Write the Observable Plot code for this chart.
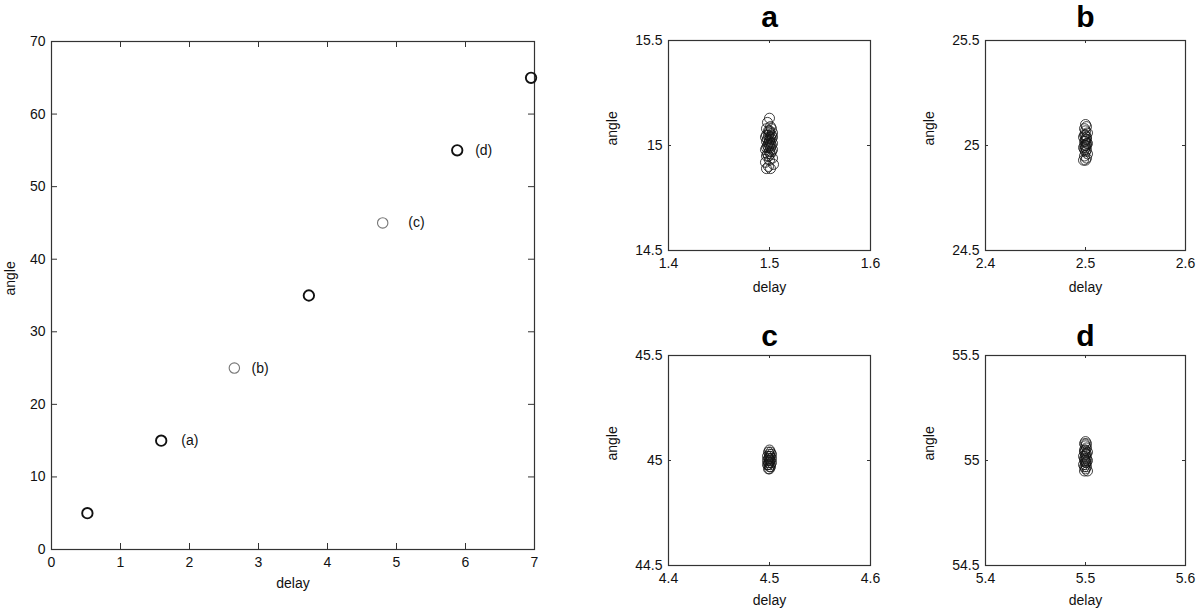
<!DOCTYPE html>
<html>
<head>
<meta charset="utf-8">
<script src="https://cdn.jsdelivr.net/npm/d3@7"></script>
<script src="https://cdn.jsdelivr.net/npm/@observablehq/plot@0.6"></script>
<style>
  html, body { margin: 0; padding: 0; background: #fff; }
  #root { position: relative; width: 1200px; height: 609px; overflow: hidden; }
  .panel { position: absolute; }
</style>
</head>
<body>
<div id="root"></div>
<script>
// ---- Main panel data ----
const mainDelay = [0.52, 1.59, 2.65, 3.73, 4.80, 5.88, 6.95];
const mainAngle = [5, 15, 25, 35, 45, 55, 65];
const mainLabelText = ["(a)", "(b)", "(c)", "(d)"];
const mainLabelDelay = [1.88, 2.90, 5.17, 6.14];
const mainLabelAngle = [15, 25, 45, 55];
const mainXTicks = [0, 1, 2, 3, 4, 5, 6, 7];
const mainYTicks = [0, 10, 20, 30, 40, 50, 60, 70];

// ---- Sub panel data (clusters of repeated measurements) ----
const aDelay = [1.500, 1.498, 1.501, 1.497, 1.502, 1.500, 1.499, 1.503, 1.500, 1.497, 1.502, 1.499, 1.501, 1.496, 1.503, 1.500, 1.498, 1.502, 1.500, 1.497, 1.501, 1.499, 1.503, 1.498, 1.500, 1.502, 1.497, 1.501, 1.499, 1.503, 1.496, 1.500, 1.502, 1.498, 1.501, 1.499, 1.497, 1.503, 1.500, 1.496, 1.504, 1.499, 1.501, 1.497];
const aAngle = [15.13, 15.11, 15.09, 15.08, 15.08, 15.07, 15.07, 15.06, 15.06, 15.05, 15.05, 15.05, 15.04, 15.04, 15.04, 15.03, 15.03, 15.03, 15.02, 15.02, 15.01, 15.01, 15.01, 15.00, 15.00, 15.00, 14.99, 14.99, 14.99, 14.98, 14.98, 14.97, 14.97, 14.96, 14.96, 14.95, 14.95, 14.94, 14.93, 14.92, 14.91, 14.90, 14.89, 14.89];

const bDelay = [2.500, 2.501, 2.499, 2.500, 2.502, 2.499, 2.500, 2.501, 2.498, 2.500, 2.501, 2.499, 2.500, 2.502, 2.501, 2.499, 2.500, 2.501, 2.498, 2.500, 2.501, 2.499, 2.500, 2.502, 2.499, 2.501, 2.500, 2.498];
const bAngle = [25.10, 25.09, 25.08, 25.07, 25.06, 25.05, 25.05, 25.04, 25.04, 25.03, 25.03, 25.02, 25.02, 25.01, 25.01, 25.00, 25.00, 25.00, 24.99, 24.99, 24.98, 24.98, 24.97, 24.96, 24.95, 24.94, 24.93, 24.93];

const cDelay = [4.500, 4.499, 4.501, 4.500, 4.502, 4.498, 4.500, 4.501, 4.499, 4.500, 4.502, 4.498, 4.500, 4.501, 4.499, 4.500, 4.502, 4.498, 4.501, 4.499, 4.500, 4.501, 4.499, 4.500];
const cAngle = [45.05, 45.04, 45.04, 45.03, 45.03, 45.02, 45.02, 45.02, 45.01, 45.01, 45.01, 45.00, 45.00, 45.00, 44.99, 44.99, 44.99, 44.98, 44.98, 44.98, 44.97, 44.97, 44.96, 44.96];

const dDelay = [5.500, 5.501, 5.499, 5.500, 5.501, 5.499, 5.500, 5.502, 5.499, 5.500, 5.501, 5.498, 5.500, 5.501, 5.499, 5.500, 5.502, 5.499, 5.500, 5.501, 5.498, 5.500, 5.501, 5.499, 5.500, 5.502, 5.499];
const dAngle = [55.09, 55.08, 55.08, 55.07, 55.06, 55.05, 55.05, 55.04, 55.04, 55.03, 55.03, 55.02, 55.02, 55.01, 55.01, 55.00, 55.00, 55.00, 54.99, 54.99, 54.98, 54.98, 54.97, 54.97, 54.96, 54.95, 54.95];

const FONT = "'Liberation Sans', Arial, Helvetica, sans-serif";
const AXIS = "#333";
const root = document.getElementById("root");

function place(svg, left, top) {
  const d = document.createElement("div");
  d.className = "panel";
  d.style.left = left + "px";
  d.style.top = top + "px";
  d.appendChild(svg);
  root.appendChild(d);
}

// inward tick marks on all four sides (MATLAB style)
function boxTicks(xt, yt, iw, ih, len) {
  return [
    Plot.tickX(xt, {x: d => d, insetTop: ih - len, stroke: AXIS}),
    Plot.tickX(xt, {x: d => d, insetBottom: ih - len, stroke: AXIS}),
    Plot.tickY(yt, {y: d => d, insetRight: iw - len, stroke: AXIS}),
    Plot.tickY(yt, {y: d => d, insetLeft: iw - len, stroke: AXIS})
  ];
}

// ---- Main panel ----
{
  const W = 560, H = 609, mL = 51, mR = 26, mT = 41, mB = 60;
  const iw = W - mL - mR, ih = H - mT - mB;
  const pts = mainDelay.map((d, i) => ({delay: d, angle: mainAngle[i], i}));
  const labs = mainLabelText.map((t, i) => ({t, delay: mainLabelDelay[i], angle: mainLabelAngle[i]}));
  const svg = Plot.plot({
    width: W, height: H,
    marginLeft: mL, marginRight: mR, marginTop: mT, marginBottom: mB,
    style: {fontFamily: FONT, fontSize: "14px", color: "#111", background: "#fff"},
    x: {domain: [0, 7]},
    y: {domain: [0, 70]},
    marks: [
      Plot.frame({stroke: AXIS, strokeWidth: 1.2}),
      ...boxTicks(mainXTicks.slice(1, -1), mainYTicks.slice(1, -1), iw, ih, 6),
      Plot.axisX({ticks: mainXTicks, tickSize: 0, tickPadding: 8, tickFormat: d => String(d), label: null}),
      Plot.axisY({ticks: mainYTicks, tickSize: 0, tickPadding: 6, tickFormat: d => String(d), label: null}),
      Plot.dot(pts, {x: "delay", y: "angle", r: 5.2, stroke: d => (d.i === 2 || d.i === 4) ? "#777" : "#111", strokeWidth: d => (d.i === 2 || d.i === 4) ? 1.1 : 1.9, fill: "none"}),
      Plot.text(labs, {x: "delay", y: "angle", text: "t", textAnchor: "start", fontSize: 14, fill: "#111"}),
      Plot.text(["delay"], {frameAnchor: "bottom", dy: 38, text: d => d, fontSize: 14, fill: "#111"}),
      Plot.text(["angle"], {frameAnchor: "left", dx: -41, rotate: -90, text: d => d, fontSize: 14, fill: "#111"})
    ]
  });
  place(svg, 0, 0);
}

// ---- Sub panels ----
const subs = [
  {title: "a", delay: aDelay, angle: aAngle, xt: [1.4, 1.5, 1.6], yt: [14.5, 15, 15.5], left: 590, top: 0, W: 300, H: 305, mL: 78, mR: 20, mT: 40, mB: 55, tdy: -35, ldy: 41},
  {title: "b", delay: bDelay, angle: bAngle, xt: [2.4, 2.5, 2.6], yt: [24.5, 25, 25.5], left: 907, top: 0, W: 293, H: 305, mL: 78, mR: 15, mT: 40, mB: 55, tdy: -35, ldy: 41},
  {title: "c", delay: cDelay, angle: cAngle, xt: [4.4, 4.5, 4.6], yt: [44.5, 45, 45.5], left: 590, top: 305, W: 300, H: 304, mL: 78, mR: 20, mT: 50, mB: 44, tdy: -31, ldy: 39},
  {title: "d", delay: dDelay, angle: dAngle, xt: [5.4, 5.5, 5.6], yt: [54.5, 55, 55.5], left: 907, top: 305, W: 293, H: 304, mL: 78, mR: 15, mT: 50, mB: 44, tdy: -31, ldy: 39}
];

for (const s of subs) {
  const iw = s.W - s.mL - s.mR, ih = s.H - s.mT - s.mB;
  const pts = s.delay.map((d, i) => ({delay: d, angle: s.angle[i]}));
  const svg = Plot.plot({
    width: s.W, height: s.H,
    marginLeft: s.mL, marginRight: s.mR, marginTop: s.mT, marginBottom: s.mB,
    style: {fontFamily: FONT, fontSize: "14px", color: "#111", background: "#fff", overflow: "visible"},
    x: {domain: [s.xt[0], s.xt[2]]},
    y: {domain: [s.yt[0], s.yt[2]]},
    marks: [
      Plot.frame({stroke: AXIS, strokeWidth: 1.2}),
      ...boxTicks([s.xt[1]], [s.yt[1]], iw, ih, 3),
      Plot.axisX({ticks: s.xt, tickSize: 0, tickPadding: 8, tickFormat: d => String(d), label: null}),
      Plot.axisY({ticks: s.yt, tickSize: 0, tickPadding: 6, tickFormat: d => String(d), label: null}),
      Plot.dot(pts, {x: "delay", y: "angle", r: 5, stroke: "#111", strokeWidth: 0.8, fill: "none"}),
      Plot.text([s.title], {frameAnchor: "top", dy: s.tdy, text: d => d, fontSize: 30, fontWeight: "bold", fill: "#000"}),
      Plot.text(["delay"], {frameAnchor: "bottom", dy: s.ldy, text: d => d, fontSize: 14, fill: "#111"}),
      Plot.text(["angle"], {frameAnchor: "left", dx: -56, rotate: -90, text: d => d, fontSize: 14, fill: "#111"})
    ]
  });
  place(svg, s.left, s.top);
}
</script>
</body>
</html>
